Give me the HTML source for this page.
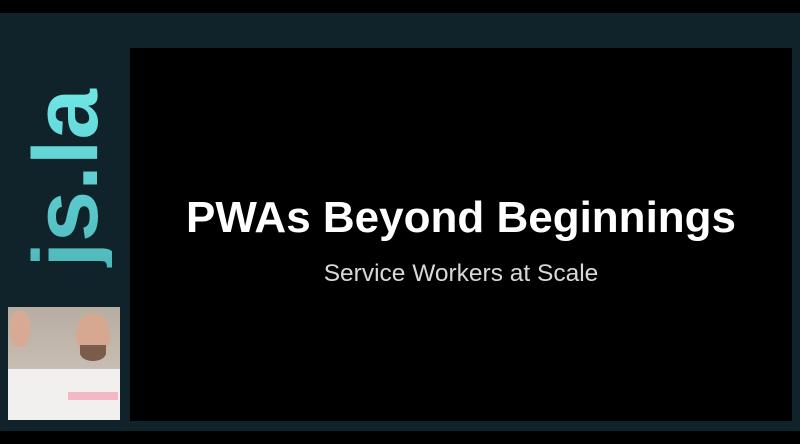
<!DOCTYPE html>
<html><head><style>
html,body{margin:0;padding:0}
body{width:800px;height:444px;background:#000;position:relative;overflow:hidden;font-family:"Liberation Sans",sans-serif}
.bg{position:absolute;left:0;top:13px;width:800px;height:418px;background:#10232b}
.slide{position:absolute;left:130px;top:48px;width:662px;height:373px;background:#000}
.t{position:absolute;left:130px;width:662px;text-align:center;color:#fff}
.logo{position:absolute;left:66px;top:178px;transform:translate(-50%,-50%) rotate(-90deg);font-weight:bold;font-size:92px;letter-spacing:0px;background:linear-gradient(90deg,#4fb8bb,#6fe6e6);-webkit-background-clip:text;color:transparent;white-space:nowrap;line-height:1}
.photo{position:absolute;left:8px;top:307px;width:112px;height:113px;background:linear-gradient(180deg,#b8ada2 0%,#c7bdb2 55%,#e8e6e4 70%,#f0eeee 100%)}
</style></head><body>
<div class="bg"></div>
<div class="slide"></div>
<div class="logo">js.la</div>
<div class="photo">
<div style="position:absolute;left:68px;top:6px;width:34px;height:44px;border-radius:50%;background:#d6a88f"></div>
<div style="position:absolute;left:72px;top:38px;width:26px;height:16px;border-radius:0 0 50% 50%;background:#7a5c4a"></div>
<div style="position:absolute;left:2px;top:4px;width:20px;height:36px;border-radius:40%;background:#d8aa95"></div>
<div style="position:absolute;left:0;top:62px;width:112px;height:51px;background:#f2f0ef"></div>
<div style="position:absolute;left:60px;top:85px;width:50px;height:8px;background:#f3b8c4"></div>
</div>
<div class="t" style="top:190px;font-weight:bold;font-size:44px;line-height:56px">PWAs Beyond Beginnings</div>
<div class="t" style="top:259px;font-size:24.5px;line-height:30px;color:#d8d8d8">Service Workers at Scale</div>
</body></html>
